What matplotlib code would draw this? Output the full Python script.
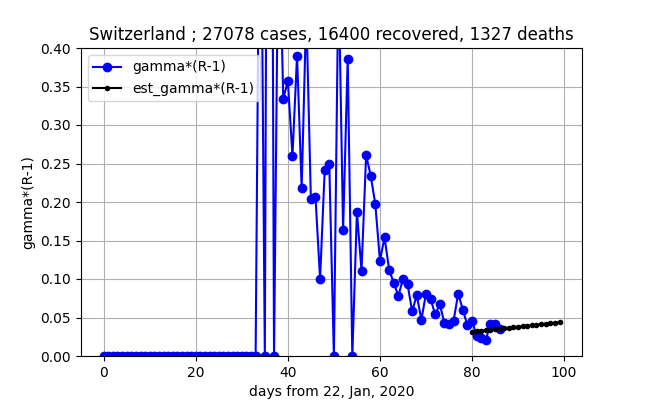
import numpy as np
import matplotlib
matplotlib.use("Agg")
import matplotlib.pyplot as plt

# observed gamma*(R-1), days 0..86 (days 0-33 are zero)
gamma_obs = [0.0] * 34 + [
    0.75, 0.0, 1.6, 0.0, 0.6, 0.334, 0.357, 0.260, 0.390, 0.218,
    0.45, 0.204, 0.207, 0.100, 0.241, 0.249, 0.0, 0.5, 0.164, 0.386,
    0.0, 0.187, 0.111, 0.261, 0.234, 0.197, 0.124, 0.154, 0.112, 0.095,
    0.078, 0.100, 0.093, 0.058, 0.079, 0.047, 0.081, 0.074, 0.054, 0.067,
    0.043, 0.042, 0.046, 0.081, 0.060, 0.040, 0.046, 0.026, 0.024, 0.021,
    0.042, 0.042, 0.035,
]
days_obs = np.arange(len(gamma_obs))

# estimated curve, days 80..99
est_days = np.arange(80, 100)
gamma_est = [0.0315, 0.0322, 0.0328, 0.0335, 0.0341, 0.0348, 0.0354, 0.0361,
             0.0367, 0.0374, 0.0380, 0.0387, 0.0393, 0.0400, 0.0406, 0.0413,
             0.0419, 0.0426, 0.0432, 0.0439]

fig = plt.figure(figsize=(6.47, 4.0), dpi=100)
plt.plot(days_obs, gamma_obs, 'bo-', label='gamma*(R-1)')
plt.plot(est_days, gamma_est, 'k.-', label='est_gamma*(R-1)')
plt.ylim(0, 0.4)
plt.grid(True)
plt.legend(loc='upper left')
plt.xlabel('days from 22, Jan, 2020')
plt.ylabel('gamma*(R-1)')
plt.title('Switzerland ; 27078 cases, 16400 recovered, 1327 deaths')
plt.savefig('out.png')
